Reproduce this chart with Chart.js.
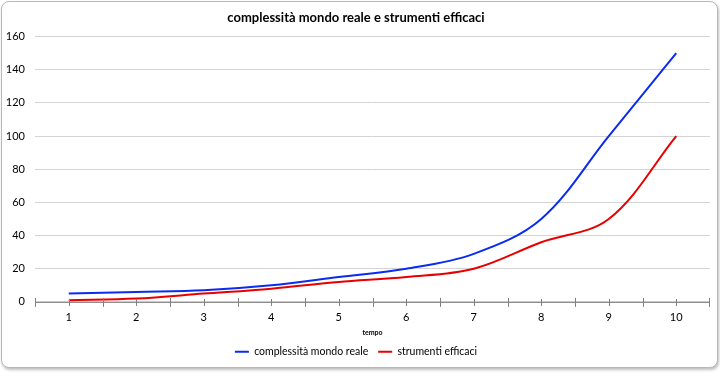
<!DOCTYPE html>
<html>
<head>
<meta charset="utf-8">
<script src="https://cdn.jsdelivr.net/npm/chart.js@4"></script>
<style>
  html, body { margin: 0; padding: 0; background: #fff; }
  #box {
    position: absolute; left: 1px; top: 1px; width: 715px; height: 365px;
    border: 1px solid #b8b8b8; border-radius: 8px; background: #fff;
    box-shadow: 1px 2px 3px rgba(0,0,0,0.25);
  }
  canvas { display: block; }
</style>
</head>
<body>
<div id="box"><canvas id="chart" width="715" height="365"></canvas></div>
<script>
const categories = ['1', '2', '3', '4', '5', '6', '7', '8', '9', '10'];
const complessita = [5, 6, 7, 10, 15, 20, 29, 50, 100, 150];
const strumenti = [1, 2, 5, 8, 12, 15, 20, 36, 50, 100];
const yTicks = [0, 20, 40, 60, 80, 100, 120, 140, 160];

// tacche sull'asse x: centro categoria e confini
const axisTicks = {
  id: 'axisTicks',
  afterDraw(chart) {
    const x = chart.scales.x;
    const y = chart.scales.y.getPixelForValue(0);
    const ctx = chart.ctx;
    ctx.save();
    ctx.strokeStyle = '#808080';
    ctx.lineWidth = 1;
    ctx.beginPath();
    ctx.moveTo(x.left, y + 0.5);
    ctx.lineTo(x.right, y + 0.5);
    const step = x.getPixelForValue(1) - x.getPixelForValue(0);
    for (let i = 0; i < categories.length; i++) {
      const c = Math.round(x.getPixelForValue(i)) + 0.5;
      ctx.moveTo(c, y - 3); ctx.lineTo(c, y + 4);
      const b = Math.round(x.getPixelForValue(i) - step / 2) + 0.5;
      ctx.moveTo(b, y - 4); ctx.lineTo(b, y + 5);
    }
    const e = Math.round(x.right) - 0.5;
    ctx.moveTo(e, y - 4); ctx.lineTo(e, y + 5);
    ctx.stroke();
    ctx.restore();
  }
};

new Chart(document.getElementById('chart'), {
  type: 'line',
  data: {
    labels: categories,
    datasets: [
      { label: 'complessità mondo reale', data: complessita, borderColor: '#0a2cf0', backgroundColor: '#0a2cf0', borderWidth: 2, pointRadius: 0, tension: 0.35 },
      { label: 'strumenti efficaci', data: strumenti, borderColor: '#e80000', backgroundColor: '#e80000', borderWidth: 2, pointRadius: 0, tension: 0.35 }
    ]
  },
  options: {
    responsive: false,
    animation: false,
    layout: { padding: { left: 0, right: 7, top: 0, bottom: 0 } },
    plugins: {
      title: {
        display: true,
        text: 'complessità mondo reale e strumenti efficaci',
        color: '#000',
        font: { family: 'Lato', size: 13, weight: 'bold' },
        padding: { top: 8, bottom: 11 }
      },
      legend: {
        position: 'bottom',
        labels: {
          usePointStyle: true, pointStyle: 'line', pointStyleWidth: 14, boxHeight: 11,
          color: '#000', font: { family: 'Lato', size: 10.5 }, padding: 10
        }
      },
      tooltip: { enabled: false }
    },
    scales: {
      x: {
        offset: true,
        grid: { display: false, drawTicks: false },
        border: { display: false },
        ticks: { color: '#000', font: { family: 'Lato', size: 11 }, padding: 9 },
        title: { display: true, text: 'tempo', color: '#000', font: { family: 'Lato', size: 7, weight: 'bold' }, padding: { top: -5, bottom: 0 } }
      },
      y: {
        min: 0, max: 160,
        afterBuildTicks(scale) { scale.ticks = yTicks.map(v => ({ value: v })); },
        afterFit(scale) { scale.width = 33; },
        grid: { color: '#d4d4d4', lineWidth: 1, drawTicks: false },
        border: { display: false },
        ticks: { color: '#000', font: { family: 'Lato', size: 11 }, padding: 10 }
      }
    }
  },
  plugins: [axisTicks]
});
</script>
</body>
</html>
